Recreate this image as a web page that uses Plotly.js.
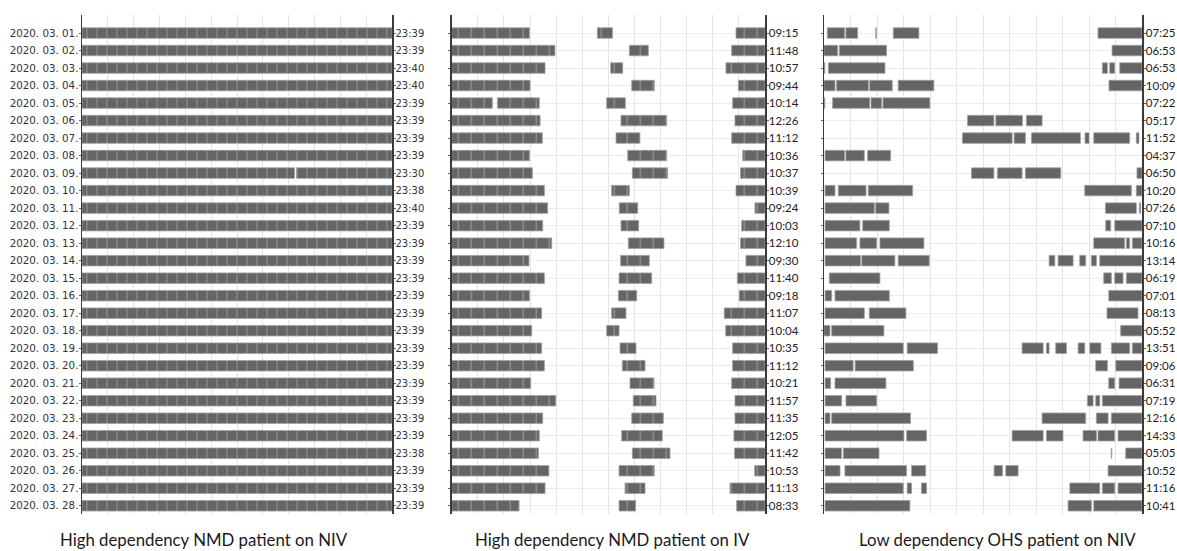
<!DOCTYPE html>
<html>
<head>
<meta charset="utf-8">
<script src="https://cdn.plot.ly/plotly-3.0.1.min.js"></script>
<style>html,body{margin:0;padding:0;background:#fff;}#chart{width:1177px;height:551px;}</style>
</head>
<body>
<div id="chart"></div>
<script>
// ---- Data (hours of the day, 0-24) ----
const dates = ['2020. 03. 01.','2020. 03. 02.','2020. 03. 03.','2020. 03. 04.','2020. 03. 05.','2020. 03. 06.','2020. 03. 07.',
  '2020. 03. 08.','2020. 03. 09.','2020. 03. 10.','2020. 03. 11.','2020. 03. 12.','2020. 03. 13.','2020. 03. 14.',
  '2020. 03. 15.','2020. 03. 16.','2020. 03. 17.','2020. 03. 18.','2020. 03. 19.','2020. 03. 20.','2020. 03. 21.',
  '2020. 03. 22.','2020. 03. 23.','2020. 03. 24.','2020. 03. 25.','2020. 03. 26.','2020. 03. 27.','2020. 03. 28.'];

const totalsNIV = ['23:39','23:39','23:40','23:40','23:39','23:39','23:39','23:39','23:30','23:38','23:40','23:39','23:39','23:39',
  '23:39','23:39','23:39','23:39','23:39','23:39','23:39','23:39','23:39','23:39','23:38','23:39','23:39','23:39'];
const totalsIV = ['09:15','11:48','10:57','09:44','10:14','12:26','11:12','10:36','10:37','10:39','09:24','10:03','12:10','09:30',
  '11:40','09:18','11:07','10:04','10:35','11:12','10:21','11:57','11:35','12:05','11:42','10:53','11:13','08:33'];
const totalsOHS = ['07:25','06:53','06:53','10:09','07:22','05:17','11:52','04:37','06:50','10:20','07:26','07:10','10:16','13:14',
  '06:19','07:01','08:13','05:52','13:51','09:06','06:31','07:19','12:16','14:33','05:05','10:52','11:16','10:41'];

// usage intervals [start, end] per day
const usageNIV = [
  [[0,24]],[[0,24]],[[0,24]],[[0,24]],[[0,24]],[[0,24]],[[0,24]],
  [[0,24]],[[0,16.45],[16.6,24]],[[0,24]],[[0,24]],[[0,24]],[[0,24]],[[0,24]],
  [[0,24]],[[0,24]],[[0,24]],[[0,24]],[[0,24]],[[0,24]],[[0,24]],
  [[0,24]],[[0,24]],[[0,24]],[[0,24]],[[0,24]],[[0,24]],[[0,24]]
];
const usageIV = [
  [[0,5.95],[11.16,12.31],[21.78,24]],
  [[0,7.91],[13.61,15.06],[21.44,24]],
  [[0,7.15],[12.18,13.10],[21.01,24]],
  [[0,6.0],[13.79,15.52],[21.96,24]],
  [[0,3.11],[3.50,6.71],[11.87,13.30],[21.52,24]],
  [[0,6.77],[12.97,16.47],[21.70,24]],
  [[0,6.94],[12.59,14.42],[21.44,24]],
  [[0,5.95],[13.48,16.47],[22.29,24]],
  [[0,6.18],[13.84,16.54],[22.13,24]],
  [[0,7.10],[12.25,13.61],[21.78,24]],
  [[0,7.35],[12.84,14.25],[23.23,24]],
  [[0,6.97],[12.97,14.32],[22.21,24]],
  [[0,7.66],[13.53,16.26],[22.13,24]],
  [[0,5.92],[12.94,15.14],[22.54,24]],
  [[0,7.10],[12.82,15.32],[21.88,24]],
  [[0,5.95],[12.77,14.17],[22.03,24]],
  [[0,6.89],[12.25,13.35],[20.88,24]],
  [[0,6.13],[11.87,12.82],[20.99,24]],
  [[0,6.89],[12.89,14.12],[21.52,24]],
  [[0,7.10],[13.07,14.81],[21.52,24]],
  [[0,6.05],[13.66,15.50],[21.44,24]],
  [[0,7.97],[13.91,15.65],[21.70,24]],
  [[0,6.97],[13.79,16.21],[21.70,24]],
  [[0,6.71],[13.02,16.13],[21.62,24]],
  [[0,6.64],[13.84,16.72],[21.67,24]],
  [[0,7.45],[12.82,15.52],[23.21,24]],
  [[0,7.15],[13.28,14.81],[21.32,24]],
  [[0,5.16],[12.82,14.09],[21.83,24]]
];
const usageOHS = [
  [[0.25,1.55],[1.65,2.54],[3.9,3.95],[5.23,7.16],[20.68,24]],
  [[0,1.03],[1.16,4.72],[21.74,24]],
  [[0,0.06],[0.33,4.60],[21.01,21.39],[21.56,21.94],[22.32,24]],
  [[0,0.83],[0.95,3.35],[3.45,5.15],[5.60,8.29],[21.51,24]],
  [[0,0.06],[0.65,3.45],[3.55,4.35],[4.45,7.99]],
  [[10.83,12.82],[12.97,14.98],[15.28,16.46]],
  [[10.45,14.20],[14.35,15.20],[15.66,19.35],[19.70,20.0],[20.36,23.07],[23.57,23.77]],
  [[0.08,1.55],[1.65,3.04],[3.29,5.03]],
  [[11.13,12.82],[13.09,14.95],[15.20,17.87],[23.62,24]],
  [[0.08,0.83],[1.08,3.17],[3.34,6.69],[19.68,23.20],[23.57,24]],
  [[0.08,3.8],[3.9,4.90],[21.24,23.57],[23.8,23.9]],
  [[0.08,2.71],[2.92,4.93],[21.26,21.64],[21.94,24]],
  [[0.08,2.46],[2.71,3.97],[4.22,7.54],[20.36,22.69],[22.82,23.07],[23.27,24]],
  [[0.08,2.75],[2.85,5.35],[5.60,7.94],[16.99,17.42],[17.67,18.80],[19.30,19.75],[20.18,20.56],[20.81,24]],
  [[0.40,4.22],[21.11,21.69],[21.94,22.57],[22.82,24]],
  [[0.08,0.58],[0.83,4.93],[21.49,24]],
  [[0.08,3.04],[3.42,6.18],[21.36,23.70]],
  [[0,0.45],[0.58,4.52],[22.39,24]],
  [[0.08,5.98],[6.28,8.57],[14.95,16.54],[16.79,16.99],[17.49,18.30],[19.18,19.68],[20.06,20.9],[21.69,23.07],[23.27,24]],
  [[0.08,2.2],[2.35,6.74],[20.51,21.39],[22.02,24]],
  [[0.08,0.50],[0.83,4.67],[21.49,21.94],[22.27,24]],
  [[0.08,1.33],[1.66,3.97],[19.88,20.31],[20.51,20.81],[21.01,24]],
  [[0.08,0.45],[0.58,6.53],[16.46,19.75],[20.56,21.44],[21.69,24]],
  [[0.08,6.03],[6.23,7.74],[14.20,16.54],[16.79,18.04],[19.55,20.56],[20.68,21.94],[22.19,24]],
  [[0.08,1.33],[1.46,4.15],[21.68,21.72],[22.77,24]],
  [[0.08,1.21],[1.58,6.23],[6.61,7.67],[12.84,13.47],[13.72,14.65],[21.44,24]],
  [[0.08,5.98],[6.28,6.61],[7.36,7.74],[18.55,20.81],[21.01,21.94],[22.19,24]],
  [[0.08,6.48],[18.42,20.18],[20.36,24]]
];

const panelTitles = ['High dependency NMD patient on NIV','High dependency NMD patient on IV','Low dependency OHS patient on NIV'];

// ---- Build ----
const W = 1177, H = 551;
const BAR = '#656565';
function flatten(rows){
  const y=[], base=[], x=[];
  rows.forEach((segs,i)=>segs.forEach(s=>{ y.push(i); base.push(s[0]); x.push(s[1]-s[0]); }));
  return {y, base, x};
}
const rowIdx = dates.map((d,i)=>i);
const yRange = [27.47, -1.03];

function barTrace(rows, xa, ya, pat){
  const f = flatten(rows);
  const t = {type:'bar', orientation:'h', y:f.y, x:f.x, base:f.base, width:0.6,
    xaxis:xa, yaxis:ya, hoverinfo:'skip', showlegend:false,
    marker:{color:BAR, line:{color:'#a0a0a0', width:0.8}}};
  if (pat) t.marker.pattern = {shape:'|', size:pat, solidity:0.1, fgcolor:'#959595', bgcolor:BAR, fillmode:'replace'};
  return t;
}
function dummy(xa, ya){
  return {type:'scatter', mode:'markers', x:[0], y:[0], xaxis:xa, yaxis:ya, opacity:0, hoverinfo:'skip', showlegend:false};
}

const data = [
  barTrace(usageNIV,'x','y',10),
  barTrace(usageIV,'x2','y2',13),
  barTrace(usageOHS,'x3','y3',0),
  dummy('x','y4'), dummy('x2','y5'), dummy('x3','y6')
];

const yDom = [1-514/H, 1-15/H];
function xAx(l,r){
  return {domain:[l/W, r/W], range:[0,24], dtick:2, tick0:0, showgrid:true, gridcolor:'#e4e4e4', gridwidth:1,
    zeroline:false, showticklabels:false, ticks:'', showline:false, fixedrange:true};
}
function yLeft(anchor, labels){
  return {domain:yDom, anchor:anchor, range:yRange, tickvals:rowIdx, ticktext:labels||rowIdx.map(()=>''),
    showticklabels:!!labels, ticks:'outside', ticklen:2, tickcolor:'#666', tickwidth:1, ticklabelstandoff:-2,
    showgrid:true, gridcolor:'#ececec', zeroline:false, showline:true, linecolor:'#3a3a3a', linewidth:1.5,
    tickfont:{family:'DejaVu Sans', size:10.3, color:'#333'}, fixedrange:true};
}
function yRight(anchor, over, labels, font){
  return {domain:yDom, anchor:anchor, overlaying:over, side:'right', range:yRange, tickvals:rowIdx, ticktext:labels,
    ticks:'outside', ticklen:2, tickcolor:'#666', tickwidth:1, ticklabelstandoff:-2, showgrid:false, zeroline:false,
    showline:true, linecolor:'#3a3a3a', linewidth:1.5, tickfont:font, fixedrange:true};
}

const layout = {
  width:W, height:H, margin:{l:0,r:0,t:0,b:0}, paper_bgcolor:'#fff', plot_bgcolor:'#fff',
  barmode:'overlay', showlegend:false,
  xaxis: xAx(82,392), xaxis2: xAx(451.7,765), xaxis3: xAx(824,1142),
  yaxis: yLeft('x', dates), yaxis2: yLeft('x2', null), yaxis3: yLeft('x3', null),
  yaxis4: yRight('x','y', totalsNIV, {family:'DejaVu Sans', size:10, color:'#333'}),
  yaxis5: yRight('x2','y2', totalsIV, {family:'Lato', size:11.5, color:'#222'}),
  yaxis6: yRight('x3','y3', totalsOHS, {family:'Lato', size:11.5, color:'#222'}),
  annotations: [
    {text:panelTitles[0], x:204/W, y:1-539/H},
    {text:panelTitles[1], x:612/W, y:1-539/H},
    {text:panelTitles[2], x:997/W, y:1-539/H}
  ].map(a=>Object.assign(a,{xref:'paper', yref:'paper', xanchor:'center', yanchor:'middle', showarrow:false,
    font:{family:'Lato', size:16.8, color:'#1a1a1a'}}))
};

Plotly.newPlot('chart', data, layout, {staticPlot:true, displayModeBar:false});
</script>
</body>
</html>
